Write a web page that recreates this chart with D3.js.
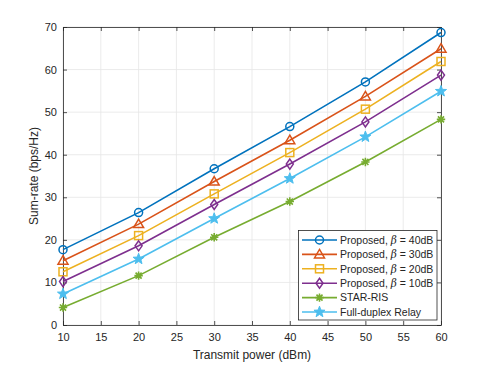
<!DOCTYPE html>
<html>
<head>
<meta charset="utf-8">
<script src="https://cdn.jsdelivr.net/npm/d3@7"></script>
<style>
body { margin: 0; background: #fff; }
text { font-family: "Liberation Sans", Arial, sans-serif; fill: #262626; }
</style>
</head>
<body>
<script>
const width = 487, height = 366;

// data
const powers = [10, 20, 30, 40, 50, 60];
const beta40 = [17.7, 26.4, 36.7, 46.6, 57.1, 68.7];
const beta30 = [15.1, 23.7, 33.7, 43.4, 53.7, 64.9];
const beta20 = [12.5, 21.0, 30.8, 40.5, 50.7, 61.9];
const beta10 = [10.2, 18.6, 28.3, 37.8, 47.7, 58.7];
const starRis = [4.1, 11.6, 20.6, 29.0, 38.3, 48.3];
const fdRelay = [7.3, 15.5, 25.0, 34.4, 44.2, 54.9];
const xTicks = [10, 15, 20, 25, 30, 35, 40, 45, 50, 55, 60];
const yTicks = [0, 10, 20, 30, 40, 50, 60, 70];

const series = [
  {name: "Proposed, ", beta: "40dB", values: beta40, color: "#0072BD", marker: "circle"},
  {name: "Proposed, ", beta: "30dB", values: beta30, color: "#D95319", marker: "triangle"},
  {name: "Proposed, ", beta: "20dB", values: beta20, color: "#EDB120", marker: "square"},
  {name: "Proposed, ", beta: "10dB", values: beta10, color: "#7E2F8E", marker: "diamond"},
  {name: "STAR-RIS", values: starRis, color: "#77AC30", marker: "asterisk"},
  {name: "Full-duplex Relay", values: fdRelay, color: "#4DBEEE", marker: "star"}
];

const margin = {left: 63, right: 46, top: 27, bottom: 41};

const svg = d3.select('body')
  .append('svg')
  .attr('width', width)
  .attr('height', height)
  .attr('viewBox', [0, 0, width, height]);

const x = d3.scaleLinear().domain([10, 60]).range([margin.left, width - margin.right]);
const y = d3.scaleLinear().domain([0, 70]).range([height - margin.bottom, margin.top]);

// grid
svg.append("g").selectAll("line").data(xTicks).enter().append("line")
  .attr("x1", d => x(d)).attr("x2", d => x(d))
  .attr("y1", y(0)).attr("y2", y(70))
  .attr("stroke", "#e6e6e6").attr("stroke-width", 0.8);
svg.append("g").selectAll("line").data(yTicks).enter().append("line")
  .attr("y1", d => y(d)).attr("y2", d => y(d))
  .attr("x1", x(10)).attr("x2", x(60))
  .attr("stroke", "#e6e6e6").attr("stroke-width", 0.8);

// axes with inner ticks
const xAxis = svg.append("g")
  .attr("transform", `translate(0,${y(0)})`)
  .call(d3.axisBottom(x).tickValues(xTicks).tickSizeInner(-4).tickSizeOuter(0).tickPadding(8));
const yAxis = svg.append("g")
  .attr("transform", `translate(${x(10)},0)`)
  .call(d3.axisLeft(y).tickValues(yTicks).tickSizeInner(-4).tickSizeOuter(0).tickPadding(6));
const xTop = svg.append("g")
  .attr("transform", `translate(0,${y(70)})`)
  .call(d3.axisTop(x).tickValues(xTicks).tickSizeInner(-4).tickSizeOuter(0).tickFormat(""));
const yRight = svg.append("g")
  .attr("transform", `translate(${x(60)},0)`)
  .call(d3.axisRight(y).tickValues(yTicks).tickSizeInner(-4).tickSizeOuter(0).tickFormat(""));

[xAxis, yAxis, xTop, yRight].forEach(g => {
  g.select(".domain").attr("stroke", "#262626").attr("stroke-width", 0.8);
  g.selectAll(".tick line").attr("stroke", "#262626").attr("stroke-width", 0.8);
  g.selectAll("text").attr("font-size", 11).attr("fill", "#262626")
    .attr("font-family", '"Liberation Sans", Arial, sans-serif');
});

// markers
function drawMarker(g, type, color, cx, cy) {
  if (type === "circle") {
    g.append("circle").attr("cx", cx).attr("cy", cy).attr("r", 4)
      .attr("fill", "none").attr("stroke", color).attr("stroke-width", 1.5);
  } else if (type === "triangle") {
    g.append("path").attr("d", `M${cx},${cy - 5}L${cx + 5},${cy + 3.5}L${cx - 5},${cy + 3.5}Z`)
      .attr("fill", "none").attr("stroke", color).attr("stroke-width", 1.5);
  } else if (type === "square") {
    g.append("rect").attr("x", cx - 4).attr("y", cy - 4).attr("width", 8).attr("height", 8)
      .attr("fill", "none").attr("stroke", color).attr("stroke-width", 1.5);
  } else if (type === "diamond") {
    g.append("path").attr("d", `M${cx},${cy - 5}L${cx + 3.5},${cy}L${cx},${cy + 5}L${cx - 3.5},${cy}Z`)
      .attr("fill", "none").attr("stroke", color).attr("stroke-width", 1.5);
  } else if (type === "asterisk") {
    const r = 4.2;
    const k = r * 0.72;
    const d = `M${cx - r},${cy}L${cx + r},${cy}M${cx},${cy - r}L${cx},${cy + r}` +
      `M${cx - k},${cy - k}L${cx + k},${cy + k}M${cx - k},${cy + k}L${cx + k},${cy - k}`;
    g.append("path").attr("d", d).attr("stroke", color).attr("stroke-width", 1.6).attr("fill", "none");
  } else if (type === "star") {
    const pts = d3.range(10).map(i => {
      const a = -Math.PI / 2 + i * Math.PI / 5;
      const r = i % 2 === 0 ? 5.8 : 2.4;
      return [cx + r * Math.cos(a), cy + r * Math.sin(a)];
    });
    g.append("path").attr("d", "M" + pts.join("L") + "Z")
      .attr("fill", color).attr("stroke", color).attr("stroke-width", 1).attr("stroke-linejoin", "miter");
  }
}

const line = d3.line().x((d, i) => x(powers[i])).y(d => y(d));

series.forEach(s => {
  svg.append("path").datum(s.values)
    .attr("d", line)
    .attr("fill", "none")
    .attr("stroke", s.color)
    .attr("stroke-width", 1.6);
  const mg = svg.append("g");
  s.values.forEach((v, i) => drawMarker(mg, s.marker, s.color, x(powers[i]), y(v)));
});

// axis labels
svg.append("text")
  .attr("x", (x(10) + x(60)) / 2).attr("y", 359)
  .attr("text-anchor", "middle").attr("font-size", 12)
  .text("Transmit power (dBm)");
svg.append("text")
  .attr("transform", `translate(38,${(y(0) + y(70)) / 2}) rotate(-90)`)
  .attr("text-anchor", "middle").attr("font-size", 12)
  .text("Sum-rate (bps/Hz)");

// legend
const lg = svg.append("g");
lg.append("rect")
  .attr("x", 298.5).attr("y", 230.5).attr("width", 138.5).attr("height", 89.5)
  .attr("fill", "#fff").attr("stroke", "#262626").attr("stroke-width", 0.8);
series.forEach((s, i) => {
  const ly = 240 + i * 14.4;
  lg.append("line").attr("x1", 302).attr("x2", 337).attr("y1", ly).attr("y2", ly)
    .attr("stroke", s.color).attr("stroke-width", 1.6);
  drawMarker(lg, s.marker, s.color, 319.5, ly);
  const t = lg.append("text").attr("x", 340).attr("y", ly + 3.8).attr("font-size", 10.5);
  t.append("tspan").text(s.name);
  if (s.beta) {
    t.append("tspan").attr("font-style", "italic").attr("font-family", '"DejaVu Serif", serif').text("β");
    t.append("tspan").text(" = " + s.beta);
  }
});
</script>
</body>
</html>
